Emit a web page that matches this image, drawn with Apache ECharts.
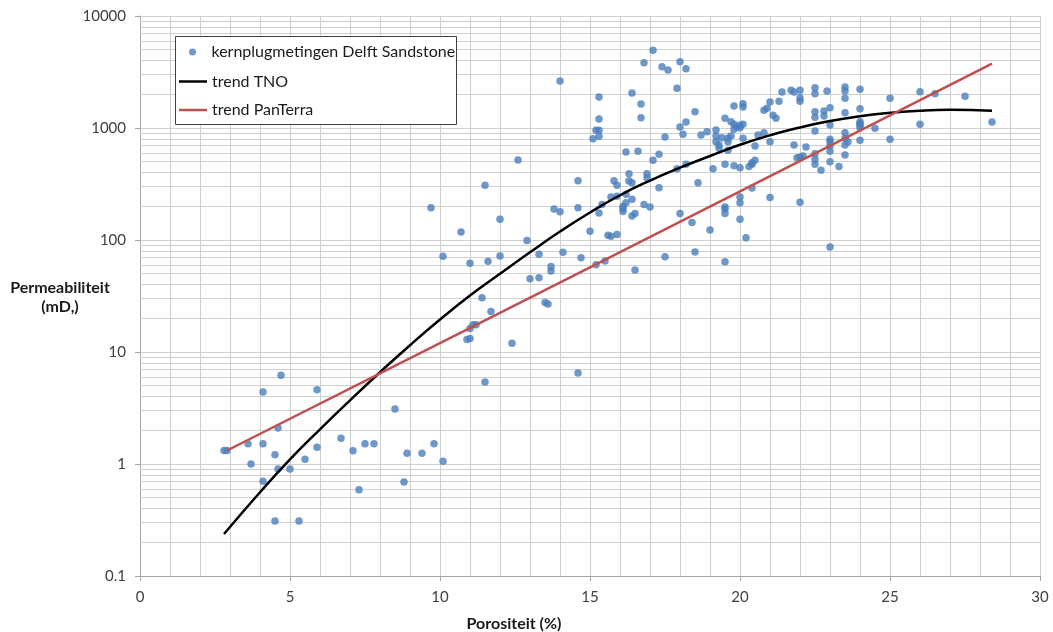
<!DOCTYPE html>
<html>
<head>
<meta charset="utf-8">
<script src="https://cdn.jsdelivr.net/npm/echarts@6/dist/echarts.min.js"></script>
<style>
  html, body { margin: 0; padding: 0; background: #ffffff; }
  #chart { width: 1053px; height: 632px; }
</style>
</head>
<body>
<div id="chart"></div>
<script>
const plugLow = [
  [2.8, 1.32], [2.9, 1.32], [3.6, 1.52], [3.7, 1.0], [4.1, 4.4], [4.1, 1.52], [4.1, 0.7],
  [4.7, 6.2], [4.6, 2.1], [4.5, 1.21], [4.6, 0.9], [5.0, 0.9], [4.5, 0.31], [5.3, 0.31],
  [5.5, 1.1], [5.9, 4.6], [5.9, 1.41], [6.7, 1.7], [7.1, 1.31], [7.5, 1.52], [7.8, 1.52],
  [7.3, 0.59], [8.5, 3.1], [8.8, 0.69], [8.9, 1.25], [9.4, 1.25], [9.8, 1.52], [10.1, 1.06]
];
const plugMid = [
  [9.7, 194], [10.1, 71.5], [10.7, 118], [11.0, 62], [11.6, 64.5], [12.0, 153], [12.0, 72],
  [11.5, 308], [12.6, 518], [11.4, 30.5], [11.7, 23], [11.1, 17.5], [11.2, 17.5], [11.0, 16.2],
  [10.9, 12.9], [11.0, 13.2], [12.4, 12], [11.5, 5.4], [14.6, 6.5], [12.9, 99], [13.3, 74.5],
  [13.0, 45], [13.3, 46], [13.7, 58], [13.7, 53], [13.5, 27.6], [13.6, 26.8], [13.8, 189],
  [14.0, 179], [14.1, 77.6], [14.6, 338], [14.6, 194], [14.7, 69.5], [15.0, 120], [14.0, 2630]
];
const plug15to17 = [
  [15.2, 60], [15.5, 65], [15.3, 174], [15.4, 208], [15.6, 110], [15.7, 108], [15.9, 112],
  [15.7, 242], [15.9, 246], [15.8, 338], [15.9, 308], [16.1, 200], [16.1, 180], [16.1, 190],
  [16.2, 256], [16.2, 215], [16.3, 391], [16.3, 336], [16.4, 325], [16.4, 231], [16.4, 164],
  [16.5, 172], [16.5, 54], [16.8, 208], [17.0, 197], [16.9, 391], [16.9, 360], [17.1, 515],
  [17.3, 582], [17.3, 293], [17.5, 71], [15.3, 1891], [16.4, 2053], [16.7, 1637], [16.7, 1236],
  [15.3, 1203], [15.2, 953], [15.3, 953], [15.1, 803], [15.3, 843], [16.6, 620], [16.2, 611],
  [17.1, 4940], [16.8, 3830], [17.4, 3525], [17.6, 3295], [17.5, 831]
];
const plug18to20 = [
  [18.0, 3910], [18.2, 3388], [17.9, 2261], [18.5, 1400], [18.0, 1021], [18.2, 1131], [18.1, 879],
  [17.9, 433], [18.0, 172], [18.2, 474], [18.4, 143], [18.5, 78], [18.6, 325], [19.0, 123],
  [19.1, 433], [19.5, 474], [19.8, 461], [19.5, 197], [19.5, 172], [19.5, 189], [19.5, 64],
  [20.0, 242], [20.0, 215], [20.0, 153], [20.2, 105], [20.3, 452], [18.7, 866], [18.9, 927],
  [19.2, 960], [19.2, 849], [19.5, 1221], [19.8, 1571], [20.1, 1648], [20.1, 1540], [19.7, 1138],
  [19.8, 1079], [19.9, 1021], [20.0, 1057], [20.1, 1079], [20.0, 1006], [19.8, 973], [19.2, 755],
  [19.3, 705], [19.3, 659], [19.4, 820], [19.6, 809], [19.6, 755], [19.7, 849], [20.1, 809],
  [19.6, 632], [20.0, 442], [20.4, 474], [20.4, 490], [20.5, 515], [20.5, 691], [20.6, 866],
  [20.8, 908], [20.4, 291]
];
const plugHigh = [
  [21.0, 755], [21.0, 239], [22.0, 217], [20.8, 1439], [20.9, 1500], [21.0, 1707], [21.3, 1731],
  [21.4, 2095], [21.7, 2172], [21.8, 2095], [22.0, 2172], [22.0, 1865], [22.0, 1731], [21.1, 1298],
  [21.2, 1221], [22.5, 2290], [22.5, 2024], [22.9, 2138], [23.5, 2323], [23.5, 2138], [23.5, 1841],
  [24.0, 2215], [22.5, 1400], [22.5, 1246], [22.8, 1419], [22.8, 1283], [23.0, 1520], [22.5, 940],
  [23.0, 1064], [23.5, 1370], [23.5, 908], [23.5, 809], [24.0, 1487], [24.0, 1138], [24.0, 1095],
  [24.0, 1057], [24.0, 1006], [24.5, 994], [21.8, 705], [21.9, 543], [22.0, 548], [22.1, 562],
  [22.2, 677], [22.5, 590], [22.5, 525], [22.5, 474], [22.7, 419], [23.0, 793], [23.0, 755],
  [23.0, 691], [23.0, 620], [23.0, 500], [23.3, 452], [23.5, 705], [23.6, 755], [23.5, 574],
  [24.0, 777], [25.0, 1841], [26.0, 2110], [26.5, 2024], [27.5, 1918], [26.0, 1079], [28.4, 1131],
  [25.0, 793], [23.0, 86.6]
];

// trend TNO
const tnoX = [2.8, 4, 5, 6, 7, 8, 9, 10, 11, 12, 13, 14, 15, 16, 17, 18, 19, 20, 21, 22, 23, 24, 25, 26, 27, 28.4];
const tnoY = [0.237, 0.56, 1.1, 2.04, 3.7, 6.6, 11.5, 19.5, 32, 50, 77.6, 119, 176, 251, 339, 442, 562, 708, 861, 1012, 1153, 1274, 1365, 1429, 1455, 1429];

// trend PanTerra (straight in log space)
const panX = [2.9, 10, 15, 20, 25, 28.4];
const panY = [1.32, 12.0, 57, 272, 1296, 3750];

// tick labels
const yDecades = [0.1, 1, 10, 100, 1000, 10000];

const FONT = 'Lato, "Open Sans", sans-serif';
const GRID_COLOR = '#cfcfcf';
const TEXT_COLOR = '#1a1a1a';

const plugPoints = [].concat(plugLow, plugMid, plug15to17, plug18to20, plugHigh);
const zip = (xs, ys) => xs.map((x, i) => [x, ys[i]]);

// horizontal log minor grid lines (2..9 in every decade)
const minorLines = [];
yDecades.slice(0, -1).forEach(d => {
  for (let m = 2; m <= 9; m++) minorLines.push({ yAxis: +(d * m).toPrecision(6) });
});

const legendText = { fontFamily: FONT, fontSize: 16, color: TEXT_COLOR, lineHeight: 18 };

const chart = echarts.init(document.getElementById('chart'), null, { renderer: 'canvas' });

chart.setOption({
  animation: false,
  backgroundColor: '#ffffff',
  grid: { left: 140, right: 13, top: 16, bottom: 56 },
  legend: [
    {
      orient: 'vertical', left: 189, top: 43, padding: 0, z: 6,
      itemWidth: 28, itemHeight: 7,
      textStyle: legendText,
      data: [{ name: 'kernplugmetingen Delft Sandstone', icon: 'circle' }]
    },
    {
      orient: 'vertical', left: 179, top: 72.5, padding: 0, z: 6,
      itemWidth: 28, itemHeight: 2.5, itemGap: 10.5,
      textStyle: legendText,
      data: [{ name: 'trend TNO', icon: 'rect' }, { name: 'trend PanTerra', icon: 'rect' }]
    }
  ],
  xAxis: {
    type: 'value',
    min: 0,
    max: 30,
    interval: 5,
    axisLine: { lineStyle: { color: '#a6a6a6' } },
    axisTick: { show: true, length: 5, lineStyle: { color: '#a6a6a6' } },
    axisLabel: { fontFamily: FONT, fontSize: 15, color: '#404040', margin: 14 },
    splitLine: { show: true, lineStyle: { color: GRID_COLOR } },
    minorTick: { show: false, splitNumber: 5 },
    minorSplitLine: { show: true, lineStyle: { color: GRID_COLOR } }
  },
  yAxis: {
    type: 'log',
    logBase: 10,
    min: 0.1,
    max: 10000,
    axisLine: { show: true, lineStyle: { color: '#a6a6a6' } },
    axisTick: { show: true, length: 5, lineStyle: { color: '#a6a6a6' } },
    axisLabel: {
      fontFamily: FONT, fontSize: 15, color: '#404040', margin: 14,
      formatter: v => String(+(+v).toPrecision(6))
    },
    splitLine: { show: true, lineStyle: { color: GRID_COLOR } }
  },
  graphic: [
    {
      type: 'rect', z: 5,
      shape: { x: 175.5, y: 36.5, width: 281, height: 88 },
      style: { fill: '#ffffff', stroke: '#404040', lineWidth: 1 }
    },
    {
      type: 'text', x: 60, y: 297,
      style: {
        text: 'Permeabiliteit\n(mD,)', fontFamily: FONT, fontWeight: 'bold', fontSize: 16,
        lineHeight: 19, fill: TEXT_COLOR, align: 'center', verticalAlign: 'middle'
      }
    },
    {
      type: 'text', x: 514, y: 624,
      style: {
        text: 'Porositeit (%)', fontFamily: FONT, fontWeight: 'bold', fontSize: 16,
        fill: TEXT_COLOR, align: 'center', verticalAlign: 'middle'
      }
    }
  ],
  series: [
    {
      type: 'line',
      data: [],
      silent: true,
      markLine: {
        z: 1,
        silent: true,
        symbol: 'none',
        label: { show: false },
        lineStyle: { color: GRID_COLOR, width: 1, type: 'solid' },
        data: minorLines
      }
    },
    {
      name: 'kernplugmetingen Delft Sandstone',
      type: 'scatter',
      symbol: 'circle',
      symbolSize: 7.5,
      itemStyle: { color: '#4a7ebb' },
      data: plugPoints,
      z: 2
    },
    {
      name: 'trend TNO',
      type: 'line',
      smooth: true,
      symbol: 'none',
      lineStyle: { color: '#000000', width: 2.5 },
      itemStyle: { color: '#000000' },
      data: zip(tnoX, tnoY),
      z: 3
    },
    {
      name: 'trend PanTerra',
      type: 'line',
      symbol: 'none',
      lineStyle: { color: '#c0504d', width: 2.5 },
      itemStyle: { color: '#c0504d' },
      data: zip(panX, panY),
      z: 3
    }
  ]
});
</script>
</body>
</html>
